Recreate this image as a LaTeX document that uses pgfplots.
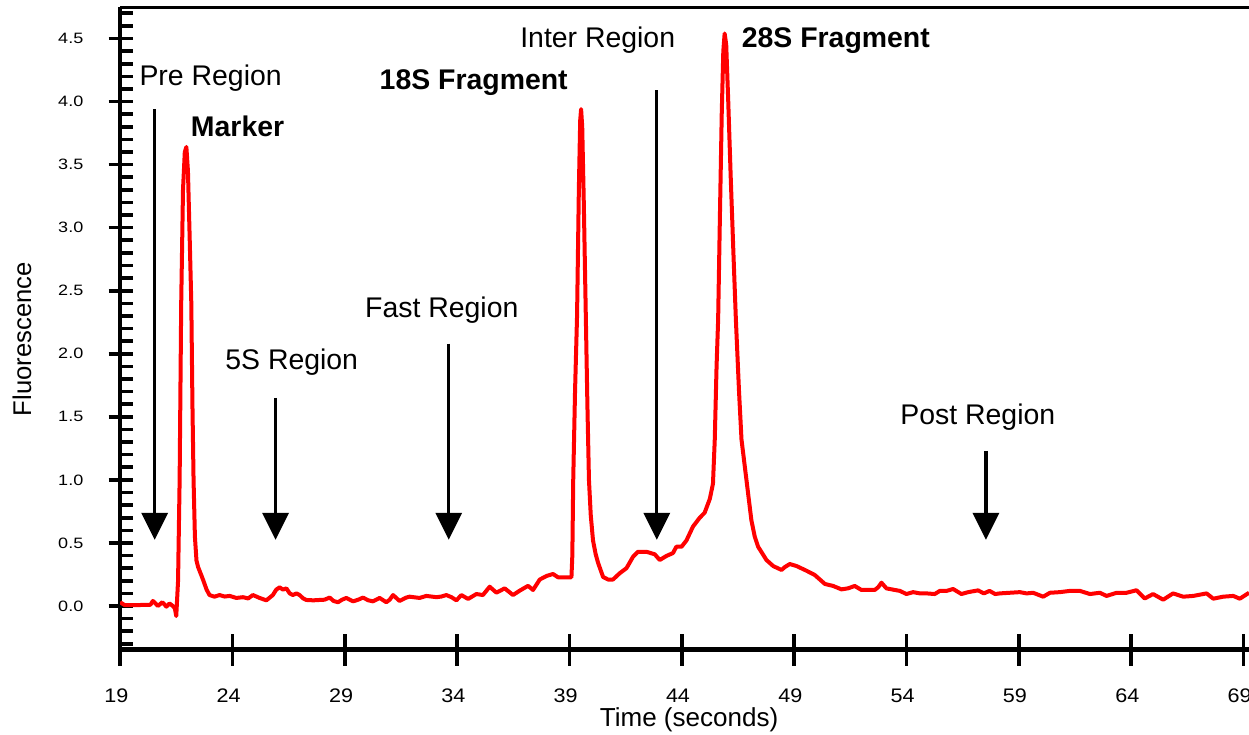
\documentclass[border=0pt]{standalone}
\usepackage{pgfplots}
\pgfplotsset{compat=1.18}
\usepackage{fontspec}
\setmainfont{Liberation Sans}
\usetikzlibrary{arrows.meta}

\pgfplotstableread{
t f
19.00 0.03
19.20 0.008
19.50 0.008
19.90 0.008
20.20 0.01
20.35 0.01
20.46 0.04
20.58 0.02
20.68 0.00
20.88 0.03
21.06 -0.005
21.20 0.02
21.35 0.00
21.44 -0.02
21.50 -0.08
21.58 0.20
21.65 1.00
21.72 2.40
21.80 3.30
21.88 3.60
21.95 3.64
22.02 3.45
22.10 2.90
22.17 2.40
22.22 1.60
22.27 1.00
22.33 0.55
22.40 0.36
22.47 0.31
22.58 0.26
22.69 0.21
22.85 0.13
22.98 0.087
23.20 0.074
23.43 0.087
23.65 0.075
23.88 0.08
24.17 0.064
24.47 0.07
24.70 0.06
24.91 0.087
25.21 0.064
25.51 0.045
25.80 0.087
25.95 0.13
26.10 0.148
26.25 0.13
26.40 0.14
26.55 0.10
26.69 0.087
26.85 0.10
26.99 0.087
27.15 0.06
27.29 0.048
27.60 0.045
27.88 0.048
28.10 0.05
28.33 0.067
28.50 0.04
28.70 0.03
28.88 0.05
29.07 0.064
29.37 0.037
29.60 0.05
29.81 0.067
30.05 0.045
30.26 0.037
30.55 0.064
30.85 0.03
31.00 0.05
31.15 0.087
31.44 0.04
31.74 0.067
31.89 0.074
32.19 0.067
32.33 0.064
32.63 0.08
33.08 0.07
33.30 0.075
33.52 0.087
33.75 0.07
33.97 0.045
34.19 0.087
34.49 0.056
34.86 0.095
35.15 0.087
35.45 0.153
35.75 0.106
36.12 0.14
36.49 0.087
36.79 0.122
37.16 0.16
37.38 0.127
37.68 0.21
37.98 0.238
38.27 0.254
38.49 0.228
38.87 0.228
39.09 0.228
39.13 0.40
39.17 1.00
39.25 1.70
39.34 2.30
39.42 3.30
39.48 3.85
39.52 3.94
39.57 3.80
39.64 3.20
39.73 2.30
39.80 1.60
39.87 1.00
39.95 0.72
40.05 0.52
40.17 0.41
40.28 0.34
40.50 0.23
40.72 0.21
40.94 0.21
41.24 0.26
41.54 0.30
41.83 0.39
42.05 0.43
42.43 0.43
42.80 0.41
43.02 0.365
43.32 0.397
43.61 0.42
43.76 0.47
43.99 0.47
44.21 0.52
44.50 0.63
44.80 0.70
45.02 0.74
45.25 0.85
45.39 0.97
45.47 1.32
45.55 1.90
45.62 2.27
45.70 3.10
45.78 3.90
45.85 4.40
45.91 4.54
45.98 4.45
46.07 4.00
46.18 3.40
46.30 2.80
46.41 2.27
46.55 1.70
46.66 1.32
46.88 1.00
47.10 0.68
47.25 0.55
47.40 0.47
47.77 0.365
48.07 0.317
48.44 0.286
48.60 0.31
48.81 0.333
49.11 0.317
49.55 0.28
49.92 0.246
50.15 0.21
50.37 0.175
50.74 0.159
51.11 0.132
51.40 0.14
51.70 0.159
52.00 0.127
52.59 0.127
52.75 0.15
52.89 0.185
53.11 0.14
53.40 0.13
53.71 0.12
54.00 0.095
54.30 0.11
54.60 0.10
54.90 0.10
55.26 0.095
55.49 0.12
55.79 0.12
56.08 0.135
56.45 0.095
56.75 0.11
57.19 0.124
57.45 0.10
57.70 0.12
57.95 0.095
58.16 0.10
58.60 0.105
59.05 0.11
59.35 0.10
59.64 0.105
60.09 0.074
60.39 0.105
60.83 0.11
61.28 0.12
61.72 0.12
62.17 0.095
62.61 0.105
62.91 0.08
63.36 0.105
63.80 0.105
64.24 0.125
64.61 0.06
64.98 0.095
65.43 0.05
65.87 0.10
66.32 0.074
66.77 0.08
67.36 0.10
67.66 0.058
68.10 0.074
68.55 0.08
68.84 0.058
69.25 0.105
}\trace

\pgfplotsset{
  base/.style={
    scale only axis,
    width=564pt, height=321pt,
    xmin=19, xmax=69.25,
    ymin=-0.345, ymax=4.75,
    tick align=center,
    tick style={black, line width=1.8pt},
    /pgf/number format/assume math mode=true,
  },
}

\begin{document}
\begin{tikzpicture}
% main axis: curve, y axis, annotations
\begin{axis}[
  base,
  axis x line*=bottom,
  axis y line*=left,
  axis line style={line width=2.2pt, -},
  xtick=\empty,
  ytick={0,0.5,...,4.5},
  minor ytick={-0.3,-0.2,...,4.7},
  major tick length=11.5pt,
  minor tick length=6.5pt,
  minor tick style={xshift=3.25pt},
  yticklabel style={/pgf/number format/fixed, /pgf/number format/fixed zerofill,
    /pgf/number format/precision=1, font=\fontsize{7.5}{9}\selectfont, xscale=1.2, xshift=-7pt},
  ylabel={Fluorescence},
  ylabel style={font=\fontsize{12.8}{14}\selectfont, at={(axis description cs:-0.087,0.483)}, anchor=center},
  clip=true,
]
\addplot[red, line width=2pt, line join=round, no markers] table[x=t, y=f] {\trace};

\draw[line width=2.2pt] (rel axis cs:0,1) -- (rel axis cs:1,1);
\coordinate (BL) at (rel axis cs:0,0);
\coordinate (TR) at (rel axis cs:1,1);

\tikzset{regarrow/.style={line width=1.6pt, -{Triangle[width=13pt,length=13.5pt]}}}
\draw[regarrow] (axis cs:20.54,3.94) -- (axis cs:20.54,0.525);
\draw[regarrow] (axis cs:25.92,1.65) -- (axis cs:25.92,0.525);
\draw[regarrow] (axis cs:33.63,2.08) -- (axis cs:33.63,0.525);
\draw[regarrow] (axis cs:42.89,4.09) -- (axis cs:42.89,0.525);
\draw[regarrow] (axis cs:57.54,1.23) -- (axis cs:57.54,0.525);

\tikzset{lab/.style={anchor=base, inner sep=0pt, font=\fontsize{14.2}{17}\selectfont}}
\node[lab] at (axis cs:23.03,4.127) {Pre Region};
\node[lab, font=\fontsize{14.2}{17}\selectfont\bfseries] at (axis cs:24.23,3.72) {Marker};
\node[lab] at (axis cs:26.64,1.873) {5S Region};
\node[lab] at (axis cs:33.32,2.286) {Fast Region};
\node[lab, font=\fontsize{14.2}{17}\selectfont\bfseries] at (axis cs:34.74,4.095) {18S Fragment};
\node[lab] at (axis cs:40.26,4.43) {Inter Region};
\node[lab, font=\fontsize{14.2}{17}\selectfont\bfseries] at (axis cs:50.86,4.43) {28S Fragment};
\node[lab] at (axis cs:57.18,1.437) {Post Region};
\end{axis}
% second axis: only the x ticks, which are longer
\begin{axis}[
  base,
  axis x line*=bottom,
  axis y line=none,
  axis line style={draw=none},
  xtick={19,24,...,69},
  ytick=\empty,
  major tick length=16pt,
  xticklabel style={font=\fontsize{9.8}{11}\selectfont, xscale=1.1, xshift=-1.7pt, yshift=-8pt},
  xlabel={Time (seconds)},
  xlabel style={font=\fontsize{13}{15}\selectfont, at={(axis description cs:0.504,-0.11)}, anchor=center},
]
\end{axis}
\pgfresetboundingbox
\path ([xshift=-60pt,yshift=-42.5pt]BL) rectangle ([yshift=3.5pt]TR);
\end{tikzpicture}
\end{document}
